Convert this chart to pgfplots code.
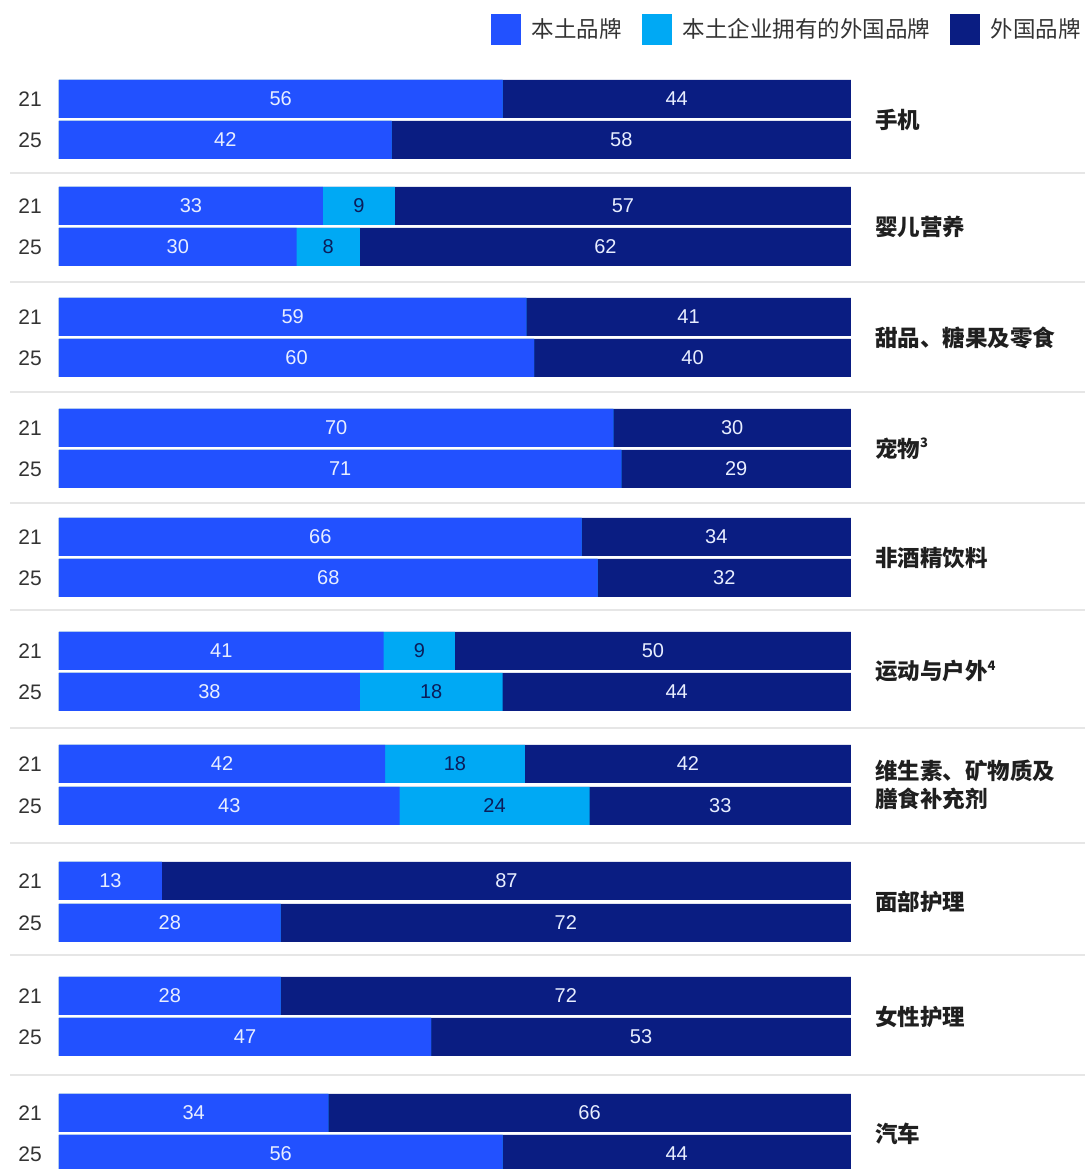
\documentclass[border=0pt]{standalone}
\usepackage{pgfplots}
\pgfplotsset{compat=1.18}
\usepackage{pgfplotstable}
\usepackage{fontspec}
\setmainfont{Liberation Sans}
\newfontfamily\cjk{Noto Sans CJK SC}
\definecolor{cLocal}{HTML}{2251FF}
\definecolor{cOwned}{HTML}{00A9F4}
\definecolor{cForeign}{HTML}{0A1D82}
\definecolor{sepgray}{HTML}{E6E6E6}
\definecolor{txtgray}{HTML}{333333}
\definecolor{lbllight}{HTML}{E8EEFF}
\definecolor{lbldark}{HTML}{0B1D5A}

% y = vertical position of each bar, yr = year label
\pgfplotstableread{
y    yr local owned foreign
1070 21 56 0 44
1029 25 42 0 58
963  21 33 9 57
922  25 30 8 62
852  21 59 0 41
811  25 60 0 40
741  21 70 0 30
700  25 71 0 29
632  21 66 0 34
591  25 68 0 32
518  21 41 9 50
477  25 38 18 44
405  21 42 18 42
363  25 43 24 33
288  21 13 0 87
246  25 28 0 72
173  21 28 0 72
132  25 47 0 53
56   21 34 0 66
15   25 56 0 44
}\shares

\newcommand{\catfont}{\cjk\bfseries\fontsize{11.25}{14}\selectfont}
\newcommand{\fnmark}[1]{\raisebox{0.42em}{\fontsize{6.5}{7}\selectfont\bfseries #1}}

\begin{document}
\begin{tikzpicture}
\begin{axis}[
  at={(0,0)}, anchor=south west,
  width=542.5pt, height=584.5pt, scale only axis,
  xmin=-7.449, xmax=129.55, ymin=0, ymax=1169,
  hide axis,
  legend style={at={(axis description cs:1,1)}, anchor=north east,
    xshift=-2pt, yshift=-7pt, draw=none, fill=none,
    inner sep=0pt, outer sep=0pt,
    font=\cjk\fontsize{11.25}{13}\selectfont, text=txtgray,
    nodes={inner sep=0pt},
    /tikz/every odd column/.append style={column sep=5.5pt},
    /tikz/every even column/.append style={column sep=10pt}},
  legend columns=-1,
  legend cell align=left,
  legend image code/.code={\fill[#1] (0pt,-7.5pt) rectangle (14.5pt,7.5pt);},
]
% separators
\draw[sepgray, line width=1.2pt] (axis cs:-6.19,996) -- (axis cs:129.55,996);
\draw[sepgray, line width=1.2pt] (axis cs:-6.19,887) -- (axis cs:129.55,887);
\draw[sepgray, line width=1.2pt] (axis cs:-6.19,777) -- (axis cs:129.55,777);
\draw[sepgray, line width=1.2pt] (axis cs:-6.19,666) -- (axis cs:129.55,666);
\draw[sepgray, line width=1.2pt] (axis cs:-6.19,559) -- (axis cs:129.55,559);
\draw[sepgray, line width=1.2pt] (axis cs:-6.19,441) -- (axis cs:129.55,441);
\draw[sepgray, line width=1.2pt] (axis cs:-6.19,326) -- (axis cs:129.55,326);
\draw[sepgray, line width=1.2pt] (axis cs:-6.19,214) -- (axis cs:129.55,214);
\draw[sepgray, line width=1.2pt] (axis cs:-6.19,94) -- (axis cs:129.55,94);

\addlegendimage{cLocal}\addlegendentry{本土品牌}
\addlegendimage{cOwned}\addlegendentry{本土企业拥有的外国品牌}
\addlegendimage{cForeign}\addlegendentry{外国品牌}

% bars (normalized to 100 per row, overlaid cumulatively)
\addplot[xbar, bar width=38, bar shift=0pt, fill=cForeign, draw=none, forget plot]
  table[x expr={100*(\thisrow{local}+\thisrow{owned}+\thisrow{foreign})/(\thisrow{local}+\thisrow{owned}+\thisrow{foreign})}, y=y] {\shares};
\addplot[xbar, bar width=38, bar shift=0pt, fill=cOwned, draw=none, forget plot]
  table[x expr={100*(\thisrow{local}+\thisrow{owned})/(\thisrow{local}+\thisrow{owned}+\thisrow{foreign})}, y=y] {\shares};
\addplot[xbar, bar width=38, bar shift=0pt, fill=cLocal, draw=none, forget plot]
  table[x expr={100*\thisrow{local}/(\thisrow{local}+\thisrow{owned}+\thisrow{foreign})}, y=y] {\shares};

% value labels
\addplot[draw=none, forget plot, nodes near coords, point meta=explicit symbolic,
  every node near coord/.append style={anchor=center, text=lbllight, font=\fontsize{10}{11}\selectfont}]
  table[x expr={50*\thisrow{local}/(\thisrow{local}+\thisrow{owned}+\thisrow{foreign})}, y=y, meta=local] {\shares};
\addplot[draw=none, forget plot, nodes near coords={\ifnum\pgfplotspointmeta>0 \pgfplotspointmeta\fi}, point meta=explicit symbolic,
  every node near coord/.append style={anchor=center, text=lbldark, font=\fontsize{10}{11}\selectfont}]
  table[x expr={100*(\thisrow{local}+0.5*\thisrow{owned})/(\thisrow{local}+\thisrow{owned}+\thisrow{foreign})}, y=y, meta=owned] {\shares};
\addplot[draw=none, forget plot, nodes near coords, point meta=explicit symbolic,
  every node near coord/.append style={anchor=center, text=lbllight, font=\fontsize{10}{11}\selectfont}]
  table[x expr={100*(\thisrow{local}+\thisrow{owned}+0.5*\thisrow{foreign})/(\thisrow{local}+\thisrow{owned}+\thisrow{foreign})}, y=y, meta=foreign] {\shares};
% year labels
\addplot[draw=none, forget plot, nodes near coords, point meta=explicit symbolic,
  every node near coord/.append style={anchor=center, text=txtgray, font=\fontsize{10.5}{12}\selectfont}]
  table[x expr=-3.66, y=y, meta=yr] {\shares};

% category labels
\tikzset{cat/.style={anchor=west, inner sep=0pt, text=black!88, align=left, font=\catfont}}
\node[cat] at (axis cs:103,1049.5) {手机};
\node[cat] at (axis cs:103,942.5) {婴儿营养};
\node[cat] at (axis cs:103,831.5) {甜品、糖果及零食};
\node[cat] at (axis cs:103,720.5) {宠物\fnmark{3}};
\node[cat] at (axis cs:103,611.5) {非酒精饮料};
\node[cat] at (axis cs:103,497.5) {运动与户外\fnmark{4}};
\node[cat] at (axis cs:103,384) {维生素、矿物质及\\膳食补充剂};
\node[cat] at (axis cs:103,267) {面部护理};
\node[cat] at (axis cs:103,152.5) {女性护理};
\node[cat] at (axis cs:103,35.5) {汽车};
\end{axis}
\pgfresetboundingbox
\useasboundingbox (0,0) rectangle (542.5pt,584.5pt);
\end{tikzpicture}
\end{document}
